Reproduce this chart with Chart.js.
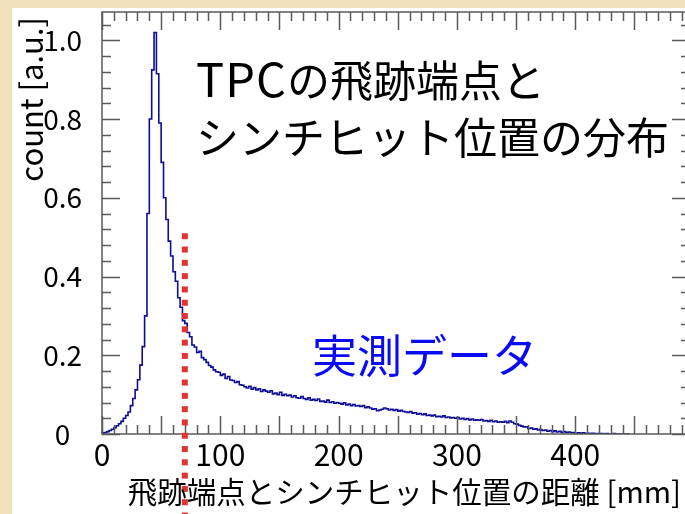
<!DOCTYPE html>
<html>
<head>
<meta charset="utf-8">
<script src="https://cdn.jsdelivr.net/npm/chart.js@4.4.7/dist/chart.umd.min.js"></script>
<style>
  html, body { margin: 0; padding: 0; width: 685px; height: 514px; overflow: hidden; background: #f0e0bc; }
  #paper { position: absolute; left: 12px; top: 8px; right: 0; bottom: 0; background: #fff; }
  #chart { position: absolute; left: 0; top: 0; }
  .note { position: absolute; font-family: "Noto Sans CJK JP", sans-serif; white-space: nowrap; }
  #title { left: 196px; top: 48px; font-size: 43px; line-height: 57px; color: #000; }
  #title .latin { font-size: 47px; letter-spacing: 1px; }
  #measured { left: 312px; top: 329px; font-size: 45px; line-height: 50px; color: #0a0af5; }
</style>
</head>
<body>
<div id="paper"></div>
<canvas id="chart" width="692" height="514"></canvas>
<div class="note" id="title"><span class="latin">TPC</span>の飛跡端点と<br>シンチヒット位置の分布</div>
<div class="note" id="measured">実測データ</div>
<script>
// distance between TPC track end point and scintillator hit [mm], 2 mm bins from 0
const binWidth = 2;
const counts = [
  0.001, 0.003, 0.004, 0.006, 0.009, 0.012, 0.016, 0.021, 0.026, 0.032,   // 0-20
  0.040, 0.047, 0.056, 0.072, 0.090, 0.112, 0.138, 0.175, 0.222, 0.300,   // 20-40
  0.560, 0.800, 0.925, 1.020, 0.915, 0.790, 0.690, 0.600, 0.545, 0.490,   // 40-60
  0.452, 0.412, 0.388, 0.346, 0.322, 0.288, 0.281, 0.258, 0.247, 0.226,   // 60-80
  0.221, 0.207, 0.210, 0.194, 0.189, 0.182, 0.174, 0.170, 0.163, 0.158,   // 80-100
  0.157, 0.149, 0.152, 0.141, 0.146, 0.137, 0.136, 0.131, 0.133, 0.125,   // 100-120
  0.124, 0.120, 0.117, 0.121, 0.114, 0.118, 0.112, 0.115, 0.108, 0.112,   // 120-140
  0.109, 0.106, 0.110, 0.102, 0.104, 0.100, 0.106, 0.098, 0.101, 0.097,   // 140-160
  0.099, 0.094, 0.097, 0.092, 0.091, 0.095, 0.090, 0.088, 0.092, 0.086,   // 160-180
  0.088, 0.085, 0.089, 0.083, 0.084, 0.081, 0.086, 0.080, 0.082, 0.078,   // 180-200
  0.080, 0.078, 0.076, 0.079, 0.074, 0.076, 0.072, 0.075, 0.071, 0.072,   // 200-220
  0.070, 0.072, 0.067, 0.069, 0.066, 0.063, 0.064, 0.059, 0.061, 0.063,   // 220-240
  0.066, 0.064, 0.061, 0.063, 0.060, 0.062, 0.058, 0.060, 0.057, 0.056,   // 240-260
  0.055, 0.057, 0.053, 0.054, 0.050, 0.052, 0.049, 0.051, 0.047, 0.048,   // 260-280
  0.046, 0.048, 0.044, 0.045, 0.043, 0.046, 0.042, 0.043, 0.041, 0.042,   // 280-300
  0.040, 0.042, 0.038, 0.040, 0.037, 0.039, 0.036, 0.038, 0.035, 0.036,   // 300-320
  0.035, 0.037, 0.033, 0.034, 0.032, 0.035, 0.031, 0.033, 0.030, 0.031,   // 320-340
  0.030, 0.032, 0.029, 0.033, 0.030, 0.026, 0.025, 0.022, 0.020, 0.018,   // 340-360
  0.018, 0.014, 0.015, 0.012, 0.013, 0.010, 0.011, 0.009, 0.010, 0.007,   // 360-380
  0.009, 0.006, 0.008, 0.005, 0.007, 0.004, 0.006, 0.004, 0.005, 0.003,   // 380-400
  0.004, 0.002, 0.003, 0.002, 0.003, 0.001, 0.002, 0.001, 0.002, 0.001,   // 400-420
  0.001, 0.001, 0.001, 0.000, 0.001, 0.000, 0.000, 0.001, 0.000, 0.000,   // 420-440
  0.000, 0.000, 0.000                                                     // 440-446
];
const xTickLabels = [0, 100, 200, 300, 400];
const yTickLabels = [0, 0.2, 0.4, 0.6, 0.8, 1.0];
const xMax = 497;
const yMax = 1.072;
const cutPosition = 70;      // red dotted line [mm]
const cutLineTop = 0.51;

const FONT = '"Noto Sans CJK JP", sans-serif';

const points = counts.map((c, i) => ({ x: i * binWidth, y: c }));
points.push({ x: counts.length * binWidth, y: 0 });

// frame with inward ticks, axis titles, and the red cut line
const framePlugin = {
  id: 'frame',
  afterDraw(chart) {
    const { ctx, chartArea: a, scales: { x, y } } = chart;
    ctx.save();
    ctx.strokeStyle = '#5a5a5a';
    ctx.lineWidth = 1.5;
    ctx.strokeRect(a.left, a.top, a.right - a.left, a.bottom - a.top);

    ctx.beginPath();
    for (let i = 0; i * 10 <= xMax; i++) {
      const px = Math.round(x.getPixelForValue(i * 10)) + 0.5;
      const len = i % 5 === 0 ? 18 : 9;
      ctx.moveTo(px, a.bottom); ctx.lineTo(px, a.bottom - len);
      ctx.moveTo(px, a.top); ctx.lineTo(px, a.top + len);
    }
    for (let i = 0; i * 0.04 <= yMax; i++) {
      const py = Math.round(y.getPixelForValue(i * 0.04)) + 0.5;
      const len = i % 5 === 0 ? 18 : 9;
      ctx.moveTo(a.left, py); ctx.lineTo(a.left + len, py);
      ctx.moveTo(a.right, py); ctx.lineTo(a.right - len, py);
    }
    ctx.stroke();

    // cut line
    ctx.fillStyle = '#e23232';
    const cx = x.getPixelForValue(cutPosition);
    for (let py = y.getPixelForValue(cutLineTop); py < chart.height; py += 13.3) {
      ctx.fillRect(cx - 3, py, 6, 6);
    }

    // axis titles
    ctx.fillStyle = '#000';
    ctx.textBaseline = 'middle';
    ctx.textAlign = 'right';
    ctx.font = '29.5px ' + FONT;
    ctx.fillText('飛跡端点とシンチヒット位置の距離 [mm]', 681, 492);
    ctx.font = '31px ' + FONT;
    ctx.translate(31, 17);
    ctx.rotate(-Math.PI / 2);
    ctx.fillText('count [a.u.]', 0, 0);
    ctx.restore();
  }
};

new Chart(document.getElementById('chart'), {
  type: 'line',
  data: {
    datasets: [{
      data: points,
      stepped: 'after',
      borderColor: '#0c0c96',
      borderWidth: 1.6,
      pointRadius: 0,
      fill: false
    }]
  },
  options: {
    responsive: false,
    animation: false,
    layout: { padding: { top: 12, right: 2, left: 0, bottom: 0 } },
    plugins: { legend: { display: false }, tooltip: { enabled: false } },
    scales: {
      x: {
        type: 'linear',
        min: 0,
        max: xMax,
        grid: { display: false },
        border: { display: false },
        afterBuildTicks: s => { s.ticks = xTickLabels.map(v => ({ value: v })); },
        afterFit: s => { s.height = 80; s.paddingLeft = 0; s.paddingRight = 0; },
        ticks: {
          padding: -5,
          color: '#000',
          maxRotation: 0,
          font: { family: FONT, size: 30 }
        }
      },
      y: {
        min: 0,
        max: yMax,
        grid: { display: false },
        border: { display: false },
        afterBuildTicks: s => { s.ticks = yTickLabels.map(v => ({ value: v })); },
        afterFit: s => { s.width = 102; s.paddingTop = 0; s.paddingBottom = 0; },
        ticks: {
          padding: 12,
          crossAlign: 'center',
          color: '#000',
          font: { family: FONT, size: 28 },
          callback: v => v === 0 ? '0' : v.toFixed(1)
        }
      }
    }
  },
  plugins: [framePlugin]
});
</script>
</body>
</html>
